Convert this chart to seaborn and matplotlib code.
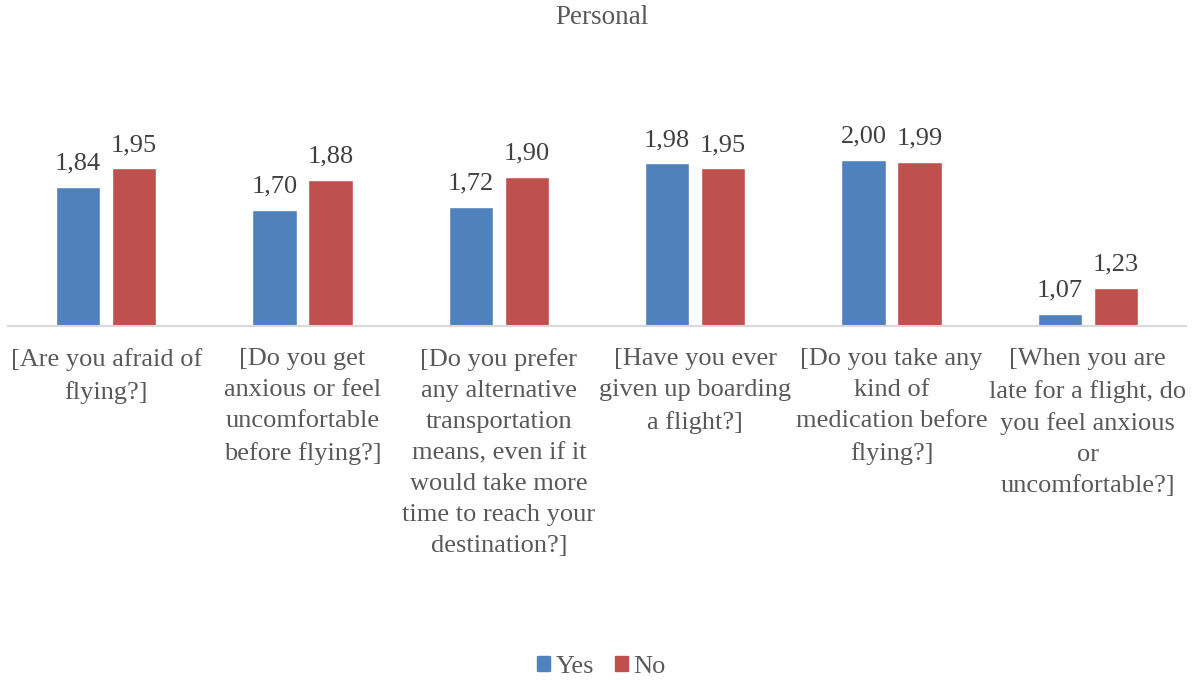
import matplotlib
matplotlib.use("Agg")
import matplotlib.pyplot as plt
import matplotlib.patches as mpatches
import pandas as pd
import seaborn as sns

# Survey questions (category labels, wrapped as drawn on the axis)
questions = [
    "[Are you afraid of\nflying?]",
    "[Do you get\nanxious or feel\nuncomfortable\nbefore flying?]",
    "[Do you prefer\nany alternative\ntransportation\nmeans, even if it\nwould take more\ntime to reach your\ndestination?]",
    "[Have you ever\ngiven up boarding\na flight?]",
    "[Do you take any\nkind of\nmedication before\nflying?]",
    "[When you are\nlate for a flight, do\nyou feel anxious\nor\nuncomfortable?]",
]
series = ["Yes", "No"]
yes_values = [1.84, 1.70, 1.72, 1.98, 2.00, 1.07]
no_values = [1.95, 1.88, 1.90, 1.95, 1.99, 1.23]
colors = ["#4F81BD", "#C0504D"]

df = pd.DataFrame({
    "question": questions * 2,
    "answer": [series[0]] * len(questions) + [series[1]] * len(questions),
    "value": yes_values + no_values,
})

sns.set_theme(style="white")
plt.rcParams["font.family"] = ["Liberation Serif", "DejaVu Serif"]

W, H = 1203, 680
fig = plt.figure(figsize=(W / 100, H / 100), dpi=100)
ax = fig.add_axes([8 / W, 1 - 326 / H, 1178 / W, (326 - 127) / H])

sns.barplot(data=df, x="question", y="value", hue="answer", order=questions,
            hue_order=series, palette=colors, width=0.57, gap=0.21,
            saturation=1, ax=ax, legend=False)

ax.set_ylim(1, 2.2)
ax.set_xlim(-0.5, len(questions) - 0.5)
ax.set_xlabel("")
ax.set_ylabel("")
ax.set_yticks([])
ax.tick_params(axis="x", length=0, pad=16)
ax.set_xticks(range(len(questions)))
ax.set_xticklabels(questions, fontsize=19, color="#595959", linespacing=1.53)

for s in ["top", "right", "left"]:
    ax.spines[s].set_visible(False)
ax.spines["bottom"].set_color("#D9D9D9")
ax.spines["bottom"].set_linewidth(1.5)

for cont, vals in zip(ax.containers, [yes_values, no_values]):
    ax.bar_label(cont, labels=[f"{v:.2f}".replace(".", ",") for v in vals],
                 padding=9, fontsize=19, color="#404040")

fig.text(0.5, 1 - 18 / H, "Personal", ha="center", va="center",
         fontsize=19.5, color="#595959")

handles = [mpatches.Patch(color=c, label=s) for c, s in zip(colors, series)]
fig.legend(handles=handles, loc="center", bbox_to_anchor=(0.5, 1 - 667 / H),
           ncol=2, frameon=False, fontsize=19, handlelength=0.5,
           handleheight=0.5, handletextpad=0.2, columnspacing=0.8,
           labelcolor="#595959")

fig.savefig("out.png", dpi=100)
